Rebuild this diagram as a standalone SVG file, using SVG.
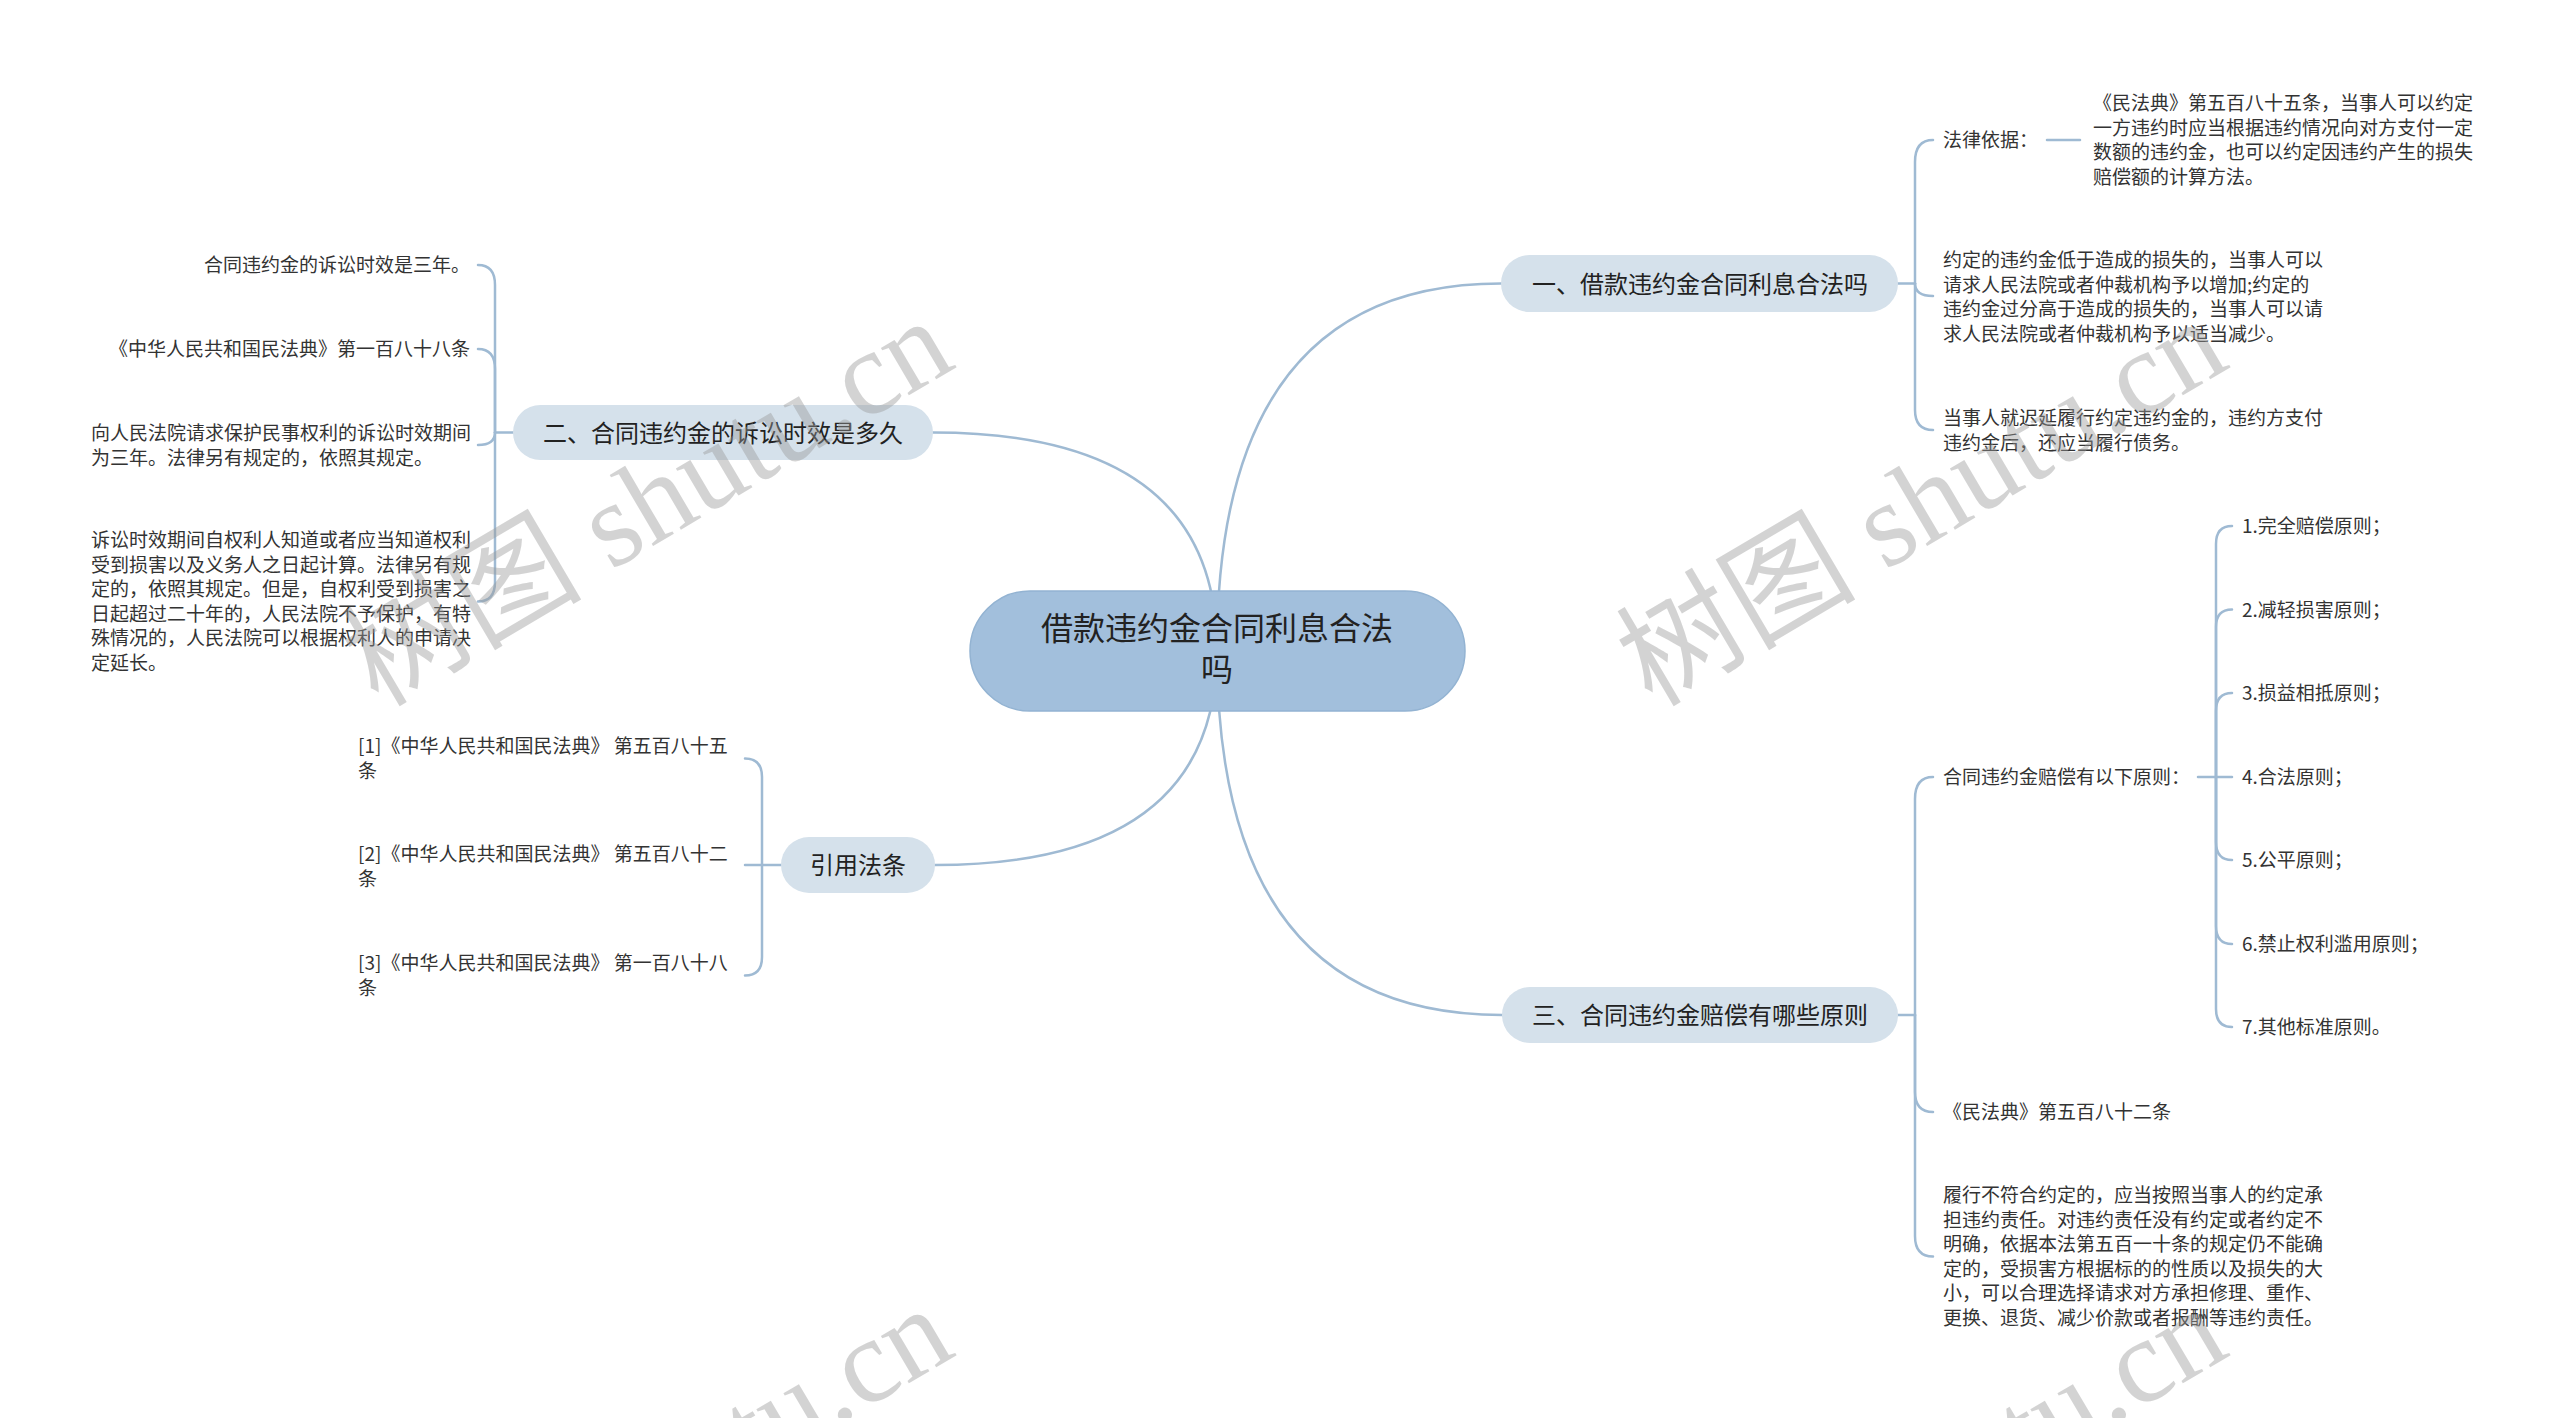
<svg xmlns="http://www.w3.org/2000/svg" width="2560" height="1418" viewBox="0 0 2560 1418">
<style>
.ln{fill:none;stroke:#9fbad3;stroke-width:2.5;stroke-linecap:round}
text{font-family:"Noto Sans CJK SC","Noto Sans",sans-serif}
.leaf{font-size:19px;fill:#333}
.end{text-anchor:end}
.br rect{fill:#d5e1eb}
.brt{font-size:24px;fill:#222;text-anchor:middle}
.rt{font-size:32px;fill:#222;text-anchor:middle}
.wm{font-family:"Liberation Serif","Noto Sans CJK SC",serif;font-size:120px;fill:#999;opacity:0.42}
</style>
<rect width="2560" height="1418" fill="#ffffff"/>
<g id="connectors">
  <path class="ln" d="M1217 650 Q1217 283.5 1501 283.5"/>
  <path class="ln" d="M1217 650 Q1217 432.5 933 432.5"/>
  <path class="ln" d="M1217 650 Q1217 865 935 865"/>
  <path class="ln" d="M1217 650 Q1217 1015 1502 1015"/>
  <path class="ln" d="M1898 283.5 H1915"/>
  <path class="ln" d="M1915 283.5 L1915 162 Q1915 140 1933 140"/>
  <path class="ln" d="M1915 283.5 Q1915 296 1933 296"/>
  <path class="ln" d="M1915 283.5 L1915 410 Q1915 430 1933 430"/>
  <path class="ln" d="M2047 140 H2080"/>
  <path class="ln" d="M1898 1015 H1915"/>
  <path class="ln" d="M1915 1015 L1915 799 Q1915 777 1933 777"/>
  <path class="ln" d="M1915 1015 L1915 1092 Q1915 1112 1933 1112"/>
  <path class="ln" d="M1915 1015 L1915 1236 Q1915 1256.5 1933 1256.5"/>
  <path class="ln" d="M2198 777 H2232"/>
  <path class="ln" d="M2216 777 L2216 544 Q2216 526 2232 526"/>
  <path class="ln" d="M2216 777 L2216 627 Q2216 609.5 2232 609.5"/>
  <path class="ln" d="M2216 777 L2216 711 Q2216 693 2232 693"/>
  <path class="ln" d="M2216 777 L2216 842 Q2216 860 2232 860"/>
  <path class="ln" d="M2216 777 L2216 926 Q2216 944 2232 944"/>
  <path class="ln" d="M2216 777 L2216 1009 Q2216 1027 2232 1027"/>
  <path class="ln" d="M513 432.5 H495"/>
  <path class="ln" d="M495 432.5 L495 285 Q495 265 478 265"/>
  <path class="ln" d="M495 432.5 L495 369 Q495 349 478 349"/>
  <path class="ln" d="M495 432.5 Q495 445 478 445"/>
  <path class="ln" d="M495 432.5 L495 582 Q495 601.5 478 601.5"/>
  <path class="ln" d="M781 865 H745"/>
  <path class="ln" d="M762 865 L762 777 Q762 758.5 745 758.5"/>
  <path class="ln" d="M762 865 L762 957 Q762 975.5 745 975.5"/>
</g>
<g id="root">
  <rect x="970" y="591" width="495" height="120" rx="60" fill="#a2bfdc" stroke="#93b3d2" stroke-width="1.5"/>
  <text class="rt" x="1217" y="640">借款违约金合同利息合法</text>
  <text class="rt" x="1217" y="681">吗</text>
</g>
<g id="b1" class="br">
  <rect x="1501" y="255" width="397" height="57" rx="28.5"/>
  <text class="brt" x="1700" y="293">一、借款违约金合同利息合法吗</text>
</g>
<g id="b2" class="br">
  <rect x="513" y="405" width="420" height="55" rx="27.5"/>
  <text class="brt" x="723" y="441.5">二、合同违约金的诉讼时效是多久</text>
</g>
<g id="b3" class="br">
  <rect x="781" y="837" width="154" height="56" rx="28"/>
  <text class="brt" x="858" y="874">引用法条</text>
</g>
<g id="b4" class="br">
  <rect x="1502" y="987" width="396" height="56" rx="28"/>
  <text class="brt" x="1700" y="1024">三、合同违约金赔偿有哪些原则</text>
</g>
<g id="b1-basis"><text class="leaf" x="1943" y="147">法律依据：</text></g>
<g id="b1-basis-text"><text class="leaf">
  <tspan x="2093" y="110">《民法典》第五百八十五条，当事人可以约定</tspan>
  <tspan x="2093" y="134.5">一方违约时应当根据违约情况向对方支付一定</tspan>
  <tspan x="2093" y="159">数额的违约金，也可以约定因违约产生的损失</tspan>
  <tspan x="2093" y="183.5">赔偿额的计算方法。</tspan>
</text></g>
<g id="b1-c2"><text class="leaf">
  <tspan x="1943" y="267">约定的违约金低于造成的损失的，当事人可以</tspan>
  <tspan x="1943" y="291.5">请求人民法院或者仲裁机构予以增加;约定的</tspan>
  <tspan x="1943" y="316">违约金过分高于造成的损失的，当事人可以请</tspan>
  <tspan x="1943" y="340.5">求人民法院或者仲裁机构予以适当减少。</tspan>
</text></g>
<g id="b1-c3"><text class="leaf">
  <tspan x="1943" y="425">当事人就迟延履行约定违约金的，违约方支付</tspan>
  <tspan x="1943" y="449.5">违约金后，还应当履行债务。</tspan>
</text></g>
<g id="b4-c1"><text class="leaf" x="1943" y="784">合同违约金赔偿有以下原则：</text></g>
<g id="p1"><text class="leaf" x="2242" y="533">1.完全赔偿原则；</text></g>
<g id="p2"><text class="leaf" x="2242" y="616.5">2.减轻损害原则；</text></g>
<g id="p3"><text class="leaf" x="2242" y="700">3.损益相抵原则；</text></g>
<g id="p4"><text class="leaf" x="2242" y="784">4.合法原则；</text></g>
<g id="p5"><text class="leaf" x="2242" y="867">5.公平原则；</text></g>
<g id="p6"><text class="leaf" x="2242" y="951">6.禁止权利滥用原则；</text></g>
<g id="p7"><text class="leaf" x="2242" y="1034">7.其他标准原则。</text></g>
<g id="b4-c2"><text class="leaf" x="1943" y="1119">《民法典》第五百八十二条</text></g>
<g id="b4-c3"><text class="leaf">
  <tspan x="1943" y="1202">履行不符合约定的，应当按照当事人的约定承</tspan>
  <tspan x="1943" y="1226.5">担违约责任。对违约责任没有约定或者约定不</tspan>
  <tspan x="1943" y="1251">明确，依据本法第五百一十条的规定仍不能确</tspan>
  <tspan x="1943" y="1275.5">定的，受损害方根据标的的性质以及损失的大</tspan>
  <tspan x="1943" y="1300">小，可以合理选择请求对方承担修理、重作、</tspan>
  <tspan x="1943" y="1324.5">更换、退货、减少价款或者报酬等违约责任。</tspan>
</text></g>
<g id="b2-c1"><text class="leaf end" x="470" y="272">合同违约金的诉讼时效是三年。</text></g>
<g id="b2-c2"><text class="leaf end" x="470" y="356">《中华人民共和国民法典》第一百八十八条</text></g>
<g id="b2-c3"><text class="leaf">
  <tspan x="91" y="440">向人民法院请求保护民事权利的诉讼时效期间</tspan>
  <tspan x="91" y="464.5">为三年。法律另有规定的，依照其规定。</tspan>
</text></g>
<g id="b2-c4"><text class="leaf">
  <tspan x="91" y="547">诉讼时效期间自权利人知道或者应当知道权利</tspan>
  <tspan x="91" y="571.5">受到损害以及义务人之日起计算。法律另有规</tspan>
  <tspan x="91" y="596">定的，依照其规定。但是，自权利受到损害之</tspan>
  <tspan x="91" y="620.5">日起超过二十年的，人民法院不予保护，有特</tspan>
  <tspan x="91" y="645">殊情况的，人民法院可以根据权利人的申请决</tspan>
  <tspan x="91" y="669.5">定延长。</tspan>
</text></g>
<g id="b3-c1"><text class="leaf">
  <tspan x="358" y="753">[1]《中华人民共和国民法典》 第五百八十五</tspan>
  <tspan x="358" y="777.5">条</tspan>
</text></g>
<g id="b3-c2"><text class="leaf">
  <tspan x="358" y="861">[2]《中华人民共和国民法典》 第五百八十二</tspan>
  <tspan x="358" y="885.5">条</tspan>
</text></g>
<g id="b3-c3"><text class="leaf">
  <tspan x="358" y="970">[3]《中华人民共和国民法典》 第一百八十八</tspan>
  <tspan x="358" y="994.5">条</tspan>
</text></g>
<g id="watermark">
  <text class="wm" transform="translate(378 708) rotate(-30.5)">树图 shutu.cn</text>
  <text class="wm" transform="translate(1652 708) rotate(-30.5)">树图 shutu.cn</text>
  <text class="wm" transform="translate(378 1696) rotate(-30.5)">树图 shutu.cn</text>
  <text class="wm" transform="translate(1652 1696) rotate(-30.5)">树图 shutu.cn</text>
</g>
</svg>
